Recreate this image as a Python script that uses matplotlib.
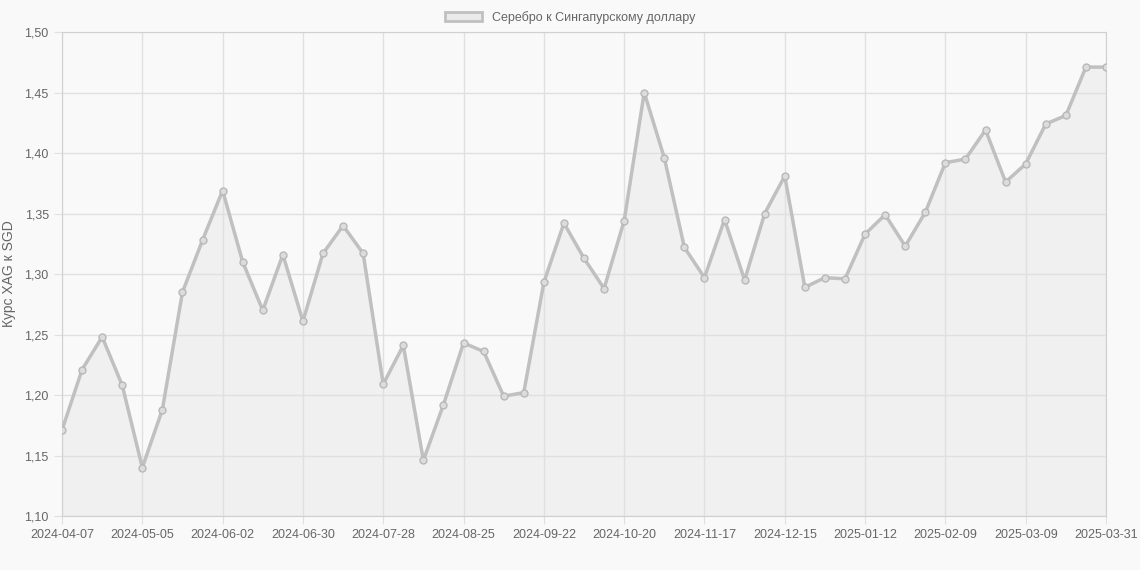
import matplotlib
matplotlib.use("Agg")
import matplotlib.pyplot as plt
import pandas as pd

plt.rcParams['font.family'] = ['Liberation Sans', 'DejaVu Sans']

dates = list(pd.date_range("2024-04-07", "2025-03-30", freq="7D").strftime("%Y-%m-%d")) + ["2025-03-31"]
values = [1.171,1.221,1.248,1.208,1.140,1.188,1.285,1.328,1.369,1.310,1.270,1.316,1.261,1.317,
          1.340,1.317,1.209,1.241,1.146,1.192,1.243,1.236,1.199,1.202,1.293,1.342,1.313,1.288,
          1.344,1.450,1.396,1.322,1.297,1.345,1.295,1.350,1.381,1.289,1.297,1.296,1.333,1.349,
          1.323,1.351,1.392,1.395,1.419,1.376,1.391,1.424,1.431,1.471,1.471]
label = "Серебро к Сингапурскому доллару"
yticks = [1.10,1.15,1.20,1.25,1.30,1.35,1.40,1.45,1.50]

fig = plt.figure(figsize=(11.4,5.7), dpi=100)
fig.patch.set_facecolor("#f9f9f9")
ax = fig.add_axes([62/1140, 54/570, 1044/1140, 484/570])
ax.set_facecolor("#f9f9f9")
x = list(range(len(values)))
ax.fill_between(x, values, 1.10, color="#ebebeb", alpha=0.6, zorder=1)
ax.plot(x, values, color="#c0c0c0", lw=2.5, marker="o", ms=5, mfc="#dcdcdc", mec="#b8b8b8", mew=1, zorder=3, label=label)
ax.set_xlim(0, len(values)-1)
ax.set_ylim(1.10, 1.50)
tick_idx = sorted(set(list(range(0, 49, 4)) + [52]))
ax.set_xticks(tick_idx)
ax.set_xticklabels([dates[i] for i in tick_idx])
ax.set_yticks(yticks)
ax.set_yticklabels([f"{v:.2f}".replace(".", ",") for v in yticks])
ax.grid(True, color="#e0e0e0", lw=1)
for s in ax.spines.values():
    s.set_color("#d0d0d0")
ax.tick_params(colors="#666666", labelsize=9, length=6, color="#e0e0e0")
ax.set_ylabel("Курс XAG к SGD", color="#666666", fontsize=10, labelpad=6)
leg = fig.legend(handles=[plt.Rectangle((0,0),1,1, fc="#ebebeb", ec="#c0c0c0", lw=2)], labels=[label],
           loc="upper center", bbox_to_anchor=(0.5, 1.0), frameon=False, fontsize=9, handlelength=3)
for t in leg.get_texts():
    t.set_color("#666666")
fig.savefig("out.png", dpi=100, facecolor=fig.get_facecolor())
